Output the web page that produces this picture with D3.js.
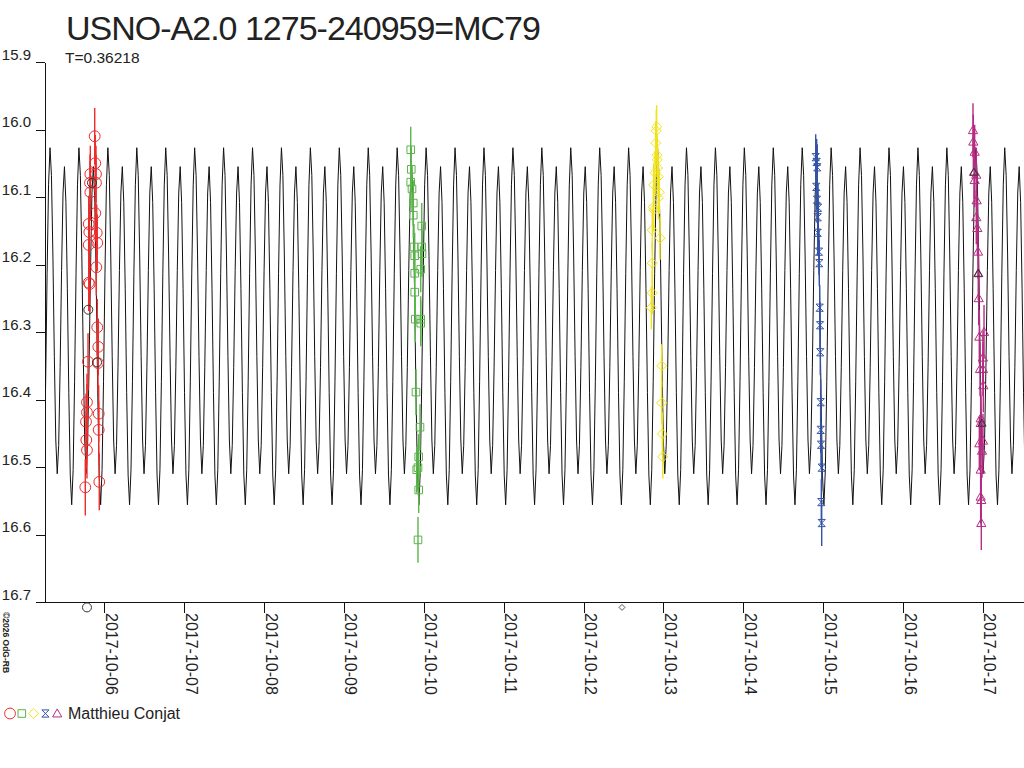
<!DOCTYPE html>
<html>
<head>
<meta charset="utf-8">
<script src="https://cdn.jsdelivr.net/npm/d3@7"></script>
<style>
body { margin:0; background:#fff; }
svg { display:block; font-family: Arial, "Liberation Sans", sans-serif; }
</style>
</head>
<body>
<svg id="chart" width="1024" height="768"></svg>
<script>
// ---- data ----
var titleText = "USNO-A2.0 1275-240959=MC79";
var periodText = "T=0.36218";
var observerName = "Matthieu Conjat";
var creditText = "\u00a92026 OdG-RB";

// times are "day of October 2017" (UTC), magnitudes are V-ish
var timeRange = [5.2576, 17.5135];
var magRange = [15.9, 16.7];
var magTicks = [15.9, 16.0, 16.1, 16.2, 16.3, 16.4, 16.5, 16.6, 16.7];
var dayTicks = [6, 7, 8, 9, 10, 11, 12, 13, 14, 15, 16, 17];

// light curve model: period, epoch of brighter max, one cycle (20 phase steps)
var period = 0.36218;
var epoch = 5.3202;
var phaseMags = [16.027, 16.068, 16.186, 16.336, 16.460, 16.510, 16.468, 16.353, 16.209, 16.094,
                 16.055, 16.108, 16.236, 16.390, 16.512, 16.556, 16.504, 16.373, 16.213, 16.082];

var redObs = [[5.880,16.010],[5.887,16.050],[5.825,16.066],[5.896,16.066],[5.896,16.079],[5.821,16.079],
  [5.825,16.093],[5.887,16.124],[5.805,16.140],[5.812,16.152],[5.905,16.153],[5.805,16.171],[5.912,16.168],
  [5.900,16.204],[5.805,16.227],[5.817,16.229],[5.912,16.293],[5.925,16.322],[5.796,16.344],
  [5.921,16.346],[5.783,16.404],[5.783,16.419],[5.930,16.421],[5.771,16.433],[5.930,16.445],[5.775,16.460],
  [5.783,16.475],[5.762,16.530],[5.937,16.522]];
var greenObs = [[9.836,16.030],[9.843,16.059],[9.836,16.078],[9.852,16.088],[9.868,16.109],[9.868,16.127],
  [9.974,16.143],[9.974,16.174],[9.877,16.174],[9.886,16.187],[9.977,16.184],[9.961,16.207],[9.886,16.213],
  [9.886,16.241],[9.893,16.281],[9.961,16.281],[9.961,16.287],[9.902,16.389],[9.952,16.441],[9.936,16.485],
  [9.927,16.501],[9.911,16.504],[9.936,16.534],[9.927,16.608]];
var yellowObs = [[12.915,15.996],[12.910,16.002],[12.903,16.020],[12.919,16.038],[12.923,16.045],[12.928,16.057],
  [12.894,16.064],[12.935,16.070],[12.878,16.082],[12.948,16.093],[12.935,16.101],[12.873,16.115],[12.878,16.119],
  [12.860,16.149],[12.957,16.161],[12.860,16.198],[12.860,16.242],[12.848,16.264],[12.978,16.350],[12.978,16.405],
  [12.986,16.451],[12.991,16.485]];
var blueObs = [[14.906,16.041],[14.918,16.048],[14.926,16.056],[14.913,16.085],[14.922,16.104],[14.935,16.116],
  [14.931,16.130],[14.931,16.153],[14.947,16.181],[14.951,16.198],[14.956,16.264],[14.960,16.290],[14.963,16.330],
  [14.968,16.404],[14.968,16.445],[14.972,16.467],[14.981,16.501],[14.976,16.552],[14.981,16.583]];
var magentaObs = [[16.875,16.001],[16.879,16.018],[16.896,16.033],[16.888,16.063],[16.916,16.067],[16.896,16.075],
  [16.921,16.105],[16.916,16.130],[16.929,16.146],[16.938,16.181],[16.941,16.213],[16.946,16.250],[17.013,16.300],
  [16.954,16.307],[17.000,16.338],[16.963,16.355],[17.000,16.355],[17.004,16.379],[16.971,16.428],[16.971,16.435],
  [17.000,16.461],[16.954,16.465],[16.988,16.476],[16.971,16.504],[16.971,16.544],[16.979,16.549],[16.979,16.583]];
// points drawn in black (other band / flagged) and the two off-scale points below the axis
var blackCircleObs = [[5.846,16.079],[5.800,16.267],[5.909,16.345],[5.783,16.708]];
var blackTriangleObs = [[16.888,16.063],[16.941,16.213],[16.988,16.435]];
var blackDiamondObs = [[12.481,16.708]];

var seriesColors = ["#ee2b2b", "#5ab54a", "#f0e31a", "#3553a6", "#b62c84"];
var seriesErr = [0.042, 0.034, 0.032, 0.034, 0.040];

// ---- setup ----
var svg = d3.select("#chart");
var plot = {left: 45, right: 1024, top: 62, bottom: 602};

function toDate(day) { return new Date(Date.UTC(2017, 9, 1) + (day - 1) * 864e5); }

var x = d3.scaleUtc()
    .domain(timeRange.map(toDate))
    .range([plot.left, plot.right]);
var y = d3.scaleLinear()
    .domain(magRange)
    .range([plot.top, plot.bottom]);

// marker shapes, size = half width squared
function shape(drawFn) {
    return { draw: function(ctx, size) { drawFn(ctx, Math.sqrt(size)); } };
}
var shapes = {
    circle: shape(function(c, r) { c.moveTo(r, 0); c.arc(0, 0, r, 0, 2 * Math.PI); }),
    square: shape(function(c, r) { c.moveTo(-r, -r); c.lineTo(r, -r); c.lineTo(r, r); c.lineTo(-r, r); c.closePath(); }),
    diamond: shape(function(c, r) { c.moveTo(0, -r); c.lineTo(r, 0); c.lineTo(0, r); c.lineTo(-r, 0); c.closePath(); }),
    hourglass: shape(function(c, r) { c.moveTo(-r, -r); c.lineTo(r, -r); c.lineTo(-r, r); c.lineTo(r, r); c.closePath(); }),
    triangle: shape(function(c, r) { c.moveTo(0, -r); c.lineTo(r, r * 0.75); c.lineTo(-r, r * 0.75); c.closePath(); })
};

var series = [
    {data: redObs, shape: "circle", size: 5.4},
    {data: greenObs, shape: "square", size: 3.8},
    {data: yellowObs, shape: "diamond", size: 5},
    {data: blueObs, shape: "hourglass", size: 3.6},
    {data: magentaObs, shape: "triangle", size: 4.6}
];
series.forEach(function(s, i) { s.color = seriesColors[i]; s.err = seriesErr[i]; });

// ---- title ----
svg.append("text")
    .attr("x", 66).attr("y", 40)
    .attr("font-size", 34).attr("letter-spacing", -1)
    .attr("fill", "#222")
    .text(titleText);
svg.append("text")
    .attr("x", 65).attr("y", 63)
    .attr("font-size", 15.5).attr("fill", "#222")
    .text(periodText);

// ---- model curve ----
var curvePts = [];
var kStart = Math.floor((timeRange[0] - epoch) / period) - 1;
var kEnd = Math.ceil((timeRange[1] - epoch) / period) + 1;
for (var k = kStart; k <= kEnd; k++) {
    for (var i = 0; i < phaseMags.length; i++) {
        curvePts.push([epoch + (k + i / phaseMags.length) * period, phaseMags[i]]);
    }
}

svg.append("clipPath").attr("id", "clip")
  .append("rect")
    .attr("x", plot.left).attr("y", 0)
    .attr("width", plot.right - plot.left).attr("height", plot.bottom);

var line = d3.line()
    .x(function(d) { return x(toDate(d[0])); })
    .y(function(d) { return y(d[1]); });

svg.append("path")
    .datum(curvePts)
    .attr("clip-path", "url(#clip)")
    .attr("fill", "none")
    .attr("stroke", "#111")
    .attr("stroke-width", 1)
    .attr("d", line);

// ---- axes ----
var yAxis = svg.append("g")
    .attr("transform", "translate(" + plot.left + ",0)")
    .call(d3.axisLeft(y).tickValues(magTicks).tickSize(9).tickSizeOuter(0).tickPadding(5)
        .tickFormat(d3.format(".1f")));
yAxis.selectAll("text").attr("dy", "-0.2em").attr("font-size", 15).attr("fill", "#222").attr("font-family", null);
yAxis.selectAll("line,path").attr("stroke", "#111").attr("shape-rendering", "crispEdges");

var xAxis = svg.append("g")
    .attr("transform", "translate(0," + plot.bottom + ")")
    .call(d3.axisBottom(x).tickValues(dayTicks.map(toDate)).tickSize(11)
        .tickFormat(d3.utcFormat("%Y-%m-%d")));
xAxis.select(".domain").remove();
xAxis.append("line")
    .attr("x1", plot.left - 9).attr("x2", plot.right)
    .attr("stroke", "#111");
xAxis.selectAll("line").attr("stroke", "#111").attr("shape-rendering", "crispEdges");
xAxis.selectAll(".tick text")
    .attr("transform", "rotate(90)")
    .attr("text-anchor", "start")
    .attr("x", 11).attr("y", -1).attr("dy", 0)
    .attr("font-size", 16).attr("fill", "#222").attr("font-family", null);

// ---- observations ----
series.forEach(function(s) {
    var grp = svg.append("g");
    grp.selectAll("line")
        .data(s.data)
      .enter().append("line")
        .attr("x1", function(d) { return x(toDate(d[0])); })
        .attr("x2", function(d) { return x(toDate(d[0])); })
        .attr("y1", function(d) { return y(d[1] - s.err); })
        .attr("y2", function(d) { return y(d[1] + s.err); })
        .attr("stroke", s.color)
        .attr("stroke-width", 1.4);
});

function drawMarkers(data, shapeName, size, color) {
    svg.append("g").selectAll("path")
        .data(data)
      .enter().append("path")
        .attr("transform", function(d) { return "translate(" + x(toDate(d[0])) + "," + y(d[1]) + ")"; })
        .attr("d", d3.symbol().type(shapes[shapeName]).size(size * size))
        .attr("fill", "none")
        .attr("stroke", color)
        .attr("stroke-width", 1);
}

series.forEach(function(s) { drawMarkers(s.data, s.shape, s.size, s.color); });
drawMarkers(blackCircleObs, "circle", 4.5, "#333");
drawMarkers(blackTriangleObs, "triangle", 4, "#333");
drawMarkers(blackDiamondObs, "diamond", 3, "#555");

// ---- legend ----
var legend = svg.append("g").attr("transform", "translate(0,713.5)");
series.forEach(function(s, i) {
    legend.append("path")
        .attr("transform", "translate(" + (10 + i * 11.8) + ",0)")
        .attr("d", d3.symbol().type(shapes[s.shape]).size(s.size * s.size))
        .attr("fill", "none")
        .attr("stroke", s.color);
});
legend.append("text")
    .attr("x", 68).attr("y", 5.5)
    .attr("font-size", 16).attr("fill", "#222")
    .text(observerName);

// ---- credit ----
svg.append("text")
    .attr("transform", "translate(3,612) rotate(90)")
    .attr("font-size", 8.5).attr("font-weight", "bold")
    .attr("fill", "#222")
    .text(creditText);
</script>
</body>
</html>
